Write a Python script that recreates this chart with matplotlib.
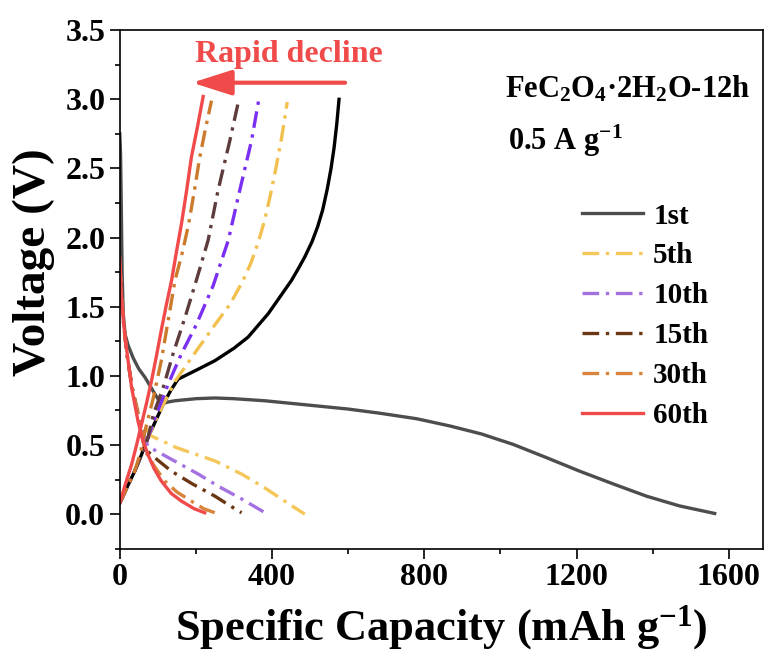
import numpy as np
import matplotlib
matplotlib.use("Agg")
import matplotlib.pyplot as plt
from matplotlib.ticker import MultipleLocator

plt.rcParams['font.family'] = ['Liberation Serif', 'DejaVu Serif']
plt.rcParams['font.weight'] = 'bold'
plt.rcParams['mathtext.fontset'] = 'custom'
plt.rcParams['mathtext.rm'] = 'Liberation Serif:bold'
plt.rcParams['mathtext.bf'] = 'Liberation Serif:bold'
plt.rcParams['mathtext.it'] = 'Liberation Serif:bold:italic'

# 各循环 放电/充电 曲线 (容量 mAh g-1, 电压 V)
cycles = ["1st", "5th", "10th", "15th", "30th", "60th"]

dis_cap = {
    "1st": [0, 2, 4, 6, 9, 14, 22, 35, 50, 66, 92, 109, 125, 145, 200, 250, 300, 381,
            473, 600, 683, 780, 867, 950, 1033, 1120, 1209, 1300, 1384, 1470, 1563],
    "5th": [0, 2, 5, 10, 18, 32, 50, 66, 83, 150, 250, 320, 381, 430, 486],
    "10th": [0, 2, 5, 10, 18, 32, 50, 62, 74, 140, 206, 260, 320, 385],
    "15th": [0, 2, 5, 10, 18, 32, 50, 58, 66, 100, 136, 190, 250, 290, 320],
    "30th": [0, 2, 5, 10, 18, 32, 50, 58, 66, 90, 118, 150, 188, 220, 250],
    "60th": [0, 2, 4.5, 10, 17.5, 31, 48, 60, 74, 90, 109, 135, 162, 195, 223],
}
dis_v = {
    "1st": [2.75, 2.6, 2.2, 1.75, 1.45, 1.3, 1.22, 1.13, 1.05, 0.99, 0.87, 0.795, 0.81, 0.82, 0.835, 0.84, 0.835, 0.82,
            0.795, 0.76, 0.73, 0.69, 0.638, 0.58, 0.505, 0.41, 0.31, 0.215, 0.13, 0.06, 0.005],
    "5th": [1.8, 1.7, 1.55, 1.38, 1.17, 0.92, 0.72, 0.63, 0.565, 0.48, 0.385, 0.29, 0.19, 0.1, 0.0],
    "10th": [1.8, 1.7, 1.55, 1.38, 1.17, 0.92, 0.7, 0.58, 0.49, 0.39, 0.29, 0.2, 0.11, 0.005],
    "15th": [1.8, 1.7, 1.55, 1.38, 1.17, 0.92, 0.69, 0.57, 0.47, 0.39, 0.31, 0.22, 0.13, 0.06, 0.01],
    "30th": [1.8, 1.7, 1.55, 1.38, 1.17, 0.92, 0.69, 0.57, 0.46, 0.35, 0.24, 0.16, 0.094, 0.04, 0.01],
    "60th": [1.85, 1.72, 1.57, 1.38, 1.2, 0.915, 0.67, 0.54, 0.43, 0.33, 0.24, 0.15, 0.094, 0.04, 0.01],
}

chg_cap = {
    "1st": [0, 20, 39, 57, 74, 95, 114, 135, 153, 200, 250, 300, 337, 390, 451, 470, 486, 505,
            520, 533, 545, 555, 563, 570, 576],
    "5th": [0, 20, 39, 57, 74, 101, 145, 188, 250, 290, 324, 345, 363, 380, 395, 410, 425, 440],
    "10th": [0, 20, 39, 57, 74, 96, 127, 162, 201, 245, 285, 315, 346, 366],
    "15th": [0, 20, 39, 57, 74, 88, 114, 140, 171, 201, 232, 258, 289, 313],
    "30th": [0, 20, 39, 55, 66, 88, 109, 127, 145, 165, 181, 196, 210, 226, 241],
    "60th": [0, 15, 31, 44, 57, 70, 83, 96, 109, 122, 136, 149, 162, 175, 188, 204, 219],
}
chg_v = {
    "1st": [0.08, 0.2, 0.31, 0.43, 0.553, 0.68, 0.795, 0.9, 0.976, 1.04, 1.11, 1.2, 1.28, 1.45, 1.69, 1.78, 1.86, 1.97,
            2.08, 2.2, 2.35, 2.5, 2.65, 2.82, 3.0],
    "5th": [0.08, 0.2, 0.31, 0.43, 0.553, 0.72, 0.96, 1.13, 1.37, 1.52, 1.69, 1.82, 1.96, 2.12, 2.3, 2.5, 2.72, 2.98],
    "10th": [0.08, 0.2, 0.31, 0.43, 0.553, 0.72, 0.94, 1.16, 1.37, 1.65, 1.98, 2.34, 2.7, 3.01],
    "15th": [0.08, 0.2, 0.31, 0.43, 0.553, 0.72, 0.915, 1.16, 1.42, 1.69, 1.98, 2.34, 2.7, 3.0],
    "30th": [0.08, 0.2, 0.31, 0.45, 0.6, 0.84, 1.11, 1.4, 1.69, 1.9, 2.1, 2.34, 2.58, 2.8, 2.99],
    "60th": [0.08, 0.22, 0.36, 0.5, 0.65, 0.8, 0.96, 1.14, 1.33, 1.51, 1.69, 1.9, 2.1, 2.33, 2.58, 2.8, 3.02],
}

dis_colors = ["#4d4d4d", "#f5c65a", "#a472e0", "#6b3712", "#d9843c", "#f04a4a"]
chg_colors = ["#000000", "#f2c04e", "#7a2ff2", "#5e3c3c", "#cc7a2c", "#f04a4a"]
dash_dot = (0, (5, 2, 1, 2))
styles = ["-", dash_dot, dash_dot, dash_dot, dash_dot, "-"]

fig = plt.figure(figsize=(7.68, 6.70), dpi=100)
ax = fig.add_axes([0.156, 0.181, 0.8375, 0.774])

for i, c in enumerate(cycles):
    ax.plot(chg_cap[c], chg_v[c], color=chg_colors[i], ls=styles[i], lw=2.4)
    ax.plot(dis_cap[c], dis_v[c], color=dis_colors[i], ls=styles[i], lw=2.4, label=c)

ax.set_xlim(0, 1690)
ax.set_ylim(-0.25, 3.5)
ax.xaxis.set_major_locator(MultipleLocator(400))
ax.xaxis.set_minor_locator(MultipleLocator(200))
ax.yaxis.set_major_locator(MultipleLocator(0.5))
ax.yaxis.set_minor_locator(MultipleLocator(0.25))
ax.tick_params(which="major", direction="out", length=7, width=1.2, labelsize=23)
ax.tick_params(which="minor", direction="out", length=3.5, width=1.2)
for s in ax.spines.values():
    s.set_linewidth(1.2)
for lab in ax.get_xticklabels() + ax.get_yticklabels():
    lab.set_fontweight("bold")

ax.set_xlabel("Specific Capacity (mAh g$^{-1}$)", fontsize=32, fontweight="bold", labelpad=8)
ax.set_ylabel("Voltage (V)", fontsize=34, fontweight="bold")
ax.yaxis.set_label_coords(-0.1, 0.553)

red = "#f04a4a"
ax.annotate("", xy=(190, 3.12), xytext=(592, 3.12),
            arrowprops=dict(arrowstyle="-|>,head_length=1.1,head_width=0.35",
                            color=red, lw=3, mutation_scale=22, shrinkA=0, shrinkB=0))
ax.text(197, 3.27, "Rapid decline", color=red, fontsize=23, fontweight="bold", va="baseline")
ax.text(1012, 3.01, "FeC$_2$O$_4$·2H$_2$O-12h", fontsize=22, fontweight="bold", va="baseline")
ax.text(1019, 2.63, "0.5 A g$^{-1}$", fontsize=22, fontweight="bold", va="baseline")

leg = ax.legend(loc="upper left", bbox_to_anchor=(0.7, 0.69), frameon=False, fontsize=21,
                handlelength=2.1, handletextpad=0.35, labelspacing=0.44, borderaxespad=0)
for t in leg.get_texts():
    t.set_fontweight("bold")

fig.savefig("out.png", dpi=100)
